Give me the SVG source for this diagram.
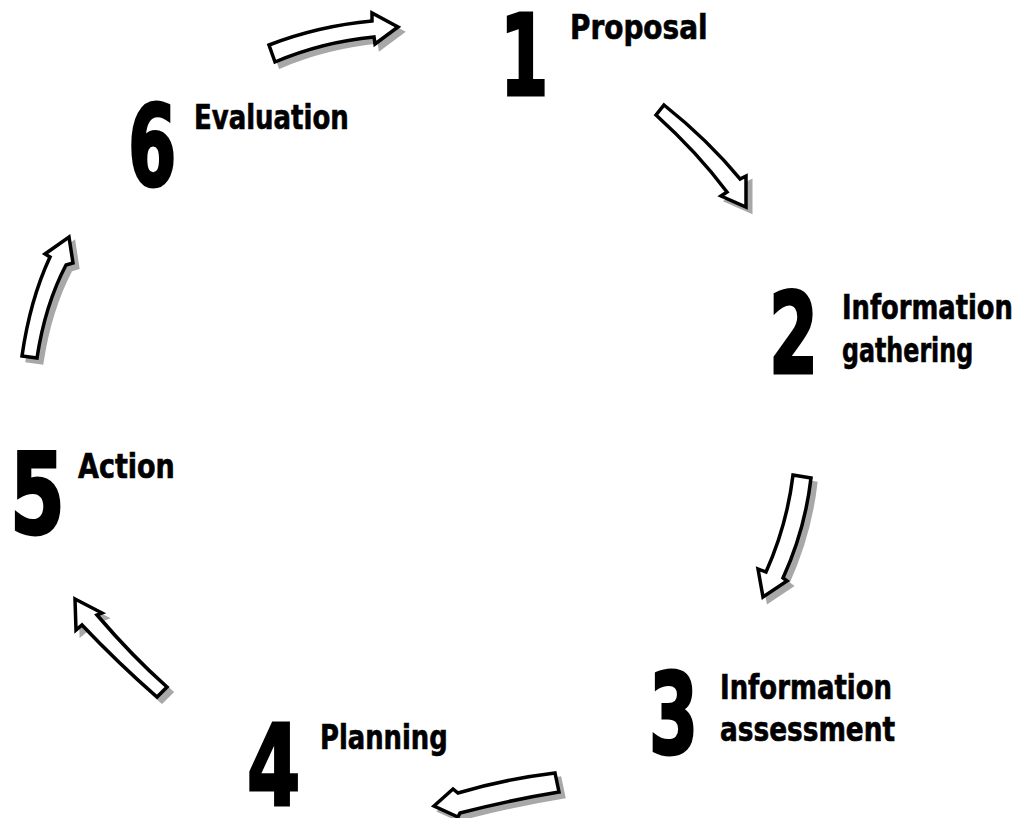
<svg xmlns="http://www.w3.org/2000/svg" xmlns:xlink="http://www.w3.org/1999/xlink" width="1028" height="818" viewBox="0 0 1028 818">
<style>
.num{font-family:"Liberation Sans Narrow","DejaVu Sans Condensed","Liberation Sans",sans-serif;font-weight:bold;font-size:112px;fill:#000;stroke:#000;stroke-width:3}
.lbl{font-family:"Liberation Sans Narrow","DejaVu Sans Condensed","Liberation Sans",sans-serif;font-weight:bold;font-size:33px;fill:#000;stroke:#000;stroke-width:0.6}
.shadow{fill:#a8a8a8;stroke:#a8a8a8;stroke-width:3;stroke-linejoin:miter}
.arrow{fill:#fff;stroke:#000;stroke-width:3.5;stroke-linejoin:miter}
</style>
<defs>
<path id="a1" d="M269,45 Q318,26 372,21 L372,13 L398,27 L375,44 L374,37 Q322,42 275,62 Z"/>
<path id="a2" d="M664,105 Q708,140 740,179 L746,176 L746,207 L721,196 L727,192 Q697,152 656,115 Z"/>
<path id="a3" d="M793,475 L811,478 Q805,530 783,578 L787,581 L763,597 L758,569 L766,572 Q787,525 793,475 Z"/>
<path id="a4" d="M555,773 L559,792 Q510,800 460,813 L458,817 L434,806 L453,789 L458,793 Q505,779 555,773 Z"/>
<path id="a5" d="M75,599 L102,613 L97,615 Q132,656 167,687 L157,697 Q118,663 82,625 L76,630 Z"/>
<path id="a6" d="M69,237 L73,263 L66,265 Q45,305 37,358 L22,356 Q30,300 50,257 L45,254 Z"/>
</defs>
<rect width="1028" height="818" fill="#fff"/>
<g id="connectors">
<use xlink:href="#a1" class="shadow" transform="translate(5,5)"/>
<use xlink:href="#a2" class="shadow" transform="translate(5,5)"/>
<use xlink:href="#a3" class="shadow" transform="translate(5,5)"/>
<use xlink:href="#a4" class="shadow" transform="translate(5,5)"/>
<use xlink:href="#a5" class="shadow" transform="translate(5,5)"/>
<use xlink:href="#a6" class="shadow" transform="translate(5,5)"/>
<use xlink:href="#a1" class="arrow"/>
<use xlink:href="#a2" class="arrow"/>
<use xlink:href="#a3" class="arrow"/>
<use xlink:href="#a4" class="arrow"/>
<use xlink:href="#a5" class="arrow"/>
<use xlink:href="#a6" class="arrow"/>
</g>
<g id="node1">
<text class="num" transform="translate(500,95) scale(0.69,1)">1</text>
<text class="lbl" transform="translate(570,39) scale(0.94,1)">Proposal</text>
</g>
<g id="node2">
<text class="num" transform="translate(769,373) scale(0.7,1)">2</text>
<text class="lbl" transform="translate(842,319) scale(0.868,1)">Information</text>
<text class="lbl" transform="translate(842,362) scale(0.8,1)">gathering</text>
</g>
<g id="node3">
<text class="num" transform="translate(649,753) scale(0.7,1)">3</text>
<text class="lbl" transform="translate(720,699) scale(0.873,1)">Information</text>
<text class="lbl" transform="translate(720,741) scale(0.888,1)">assessment</text>
</g>
<g id="node4">
<text class="num" transform="translate(247,805) scale(0.76,1)">4</text>
<text class="lbl" transform="translate(320,749) scale(0.87,1)">Planning</text>
</g>
<g id="node5">
<text class="num" transform="translate(10,533) scale(0.78,1)">5</text>
<text class="lbl" transform="translate(78,478) scale(0.91,1)">Action</text>
</g>
<g id="node6">
<text class="num" transform="translate(128,185) scale(0.69,1)">6</text>
<text class="lbl" transform="translate(194,129) scale(0.875,1)">Evaluation</text>
</g>
</svg>
